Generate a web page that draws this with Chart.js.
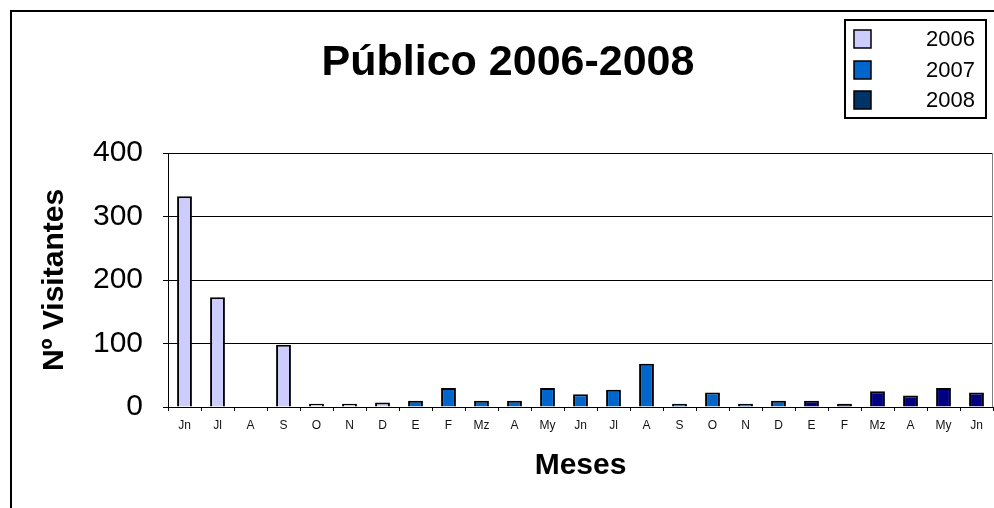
<!DOCTYPE html>
<html><head><meta charset="utf-8">
<script src="https://cdn.jsdelivr.net/npm/chart.js@4"></script>
<style>html,body{margin:0;padding:0;background:#fff}#wrap{width:994px;height:508px;position:relative}</style>
</head><body><div id="wrap"><canvas id="c"></canvas></div>
<script>
const months = ['Jn','Jl','A','S','O','N','D','E','F','Mz','A','My','Jn','Jl','A','S','O','N','D','E','F','Mz','A','My','Jn'];
const series2006 = [332,173,0,98,5,5,7,null,null,null,null,null,null,null,null,null,null,null,null,null,null,null,null,null,null];
const series2007 = [null,null,null,null,null,null,null,10,30,10,10,30,20,27,68,5,23,5,10,null,null,null,null,null,null];
const series2008 = [null,null,null,null,null,null,null,null,null,null,null,null,null,null,null,null,null,null,null,10,5,25,18,30,23];
const yTicks = [0,100,200,300,400];
const seriesNames = ['2006','2007','2008'];
const titleText = 'Público 2006-2008';
const yTitle = 'Nº Visitantes';
const xTitle = 'Meses';

const FONT = "'Liberation Sans', Arial, sans-serif";
const barColors = ['#CCCCFF','#0066CC','#000080'];
const legendColors = ['#CCCCFF','#0066CC','#003366'];

const decor = {
  id: 'decor',
  afterDraw(chart) {
    const ctx = chart.ctx, a = chart.chartArea;
    ctx.save();
    // plot right border
    ctx.strokeStyle = '#808080'; ctx.lineWidth = 1;
    ctx.beginPath(); ctx.moveTo(Math.round(a.right) - 0.5, a.top); ctx.lineTo(Math.round(a.right) - 0.5, a.bottom); ctx.stroke();
    // outer frame
    ctx.strokeStyle = '#000'; ctx.lineWidth = 2;
    ctx.beginPath(); ctx.moveTo(11, 508); ctx.lineTo(11, 11); ctx.lineTo(994, 11); ctx.stroke();
    // title
    ctx.fillStyle = '#000';
    ctx.font = "bold 43px " + FONT;
    ctx.textAlign = 'center'; ctx.textBaseline = 'alphabetic';
    ctx.fillText(titleText, 508, 75);
    // legend
    ctx.fillStyle = '#fff';
    ctx.fillRect(844, 19, 143, 100);
    ctx.strokeStyle = '#000'; ctx.lineWidth = 2;
    ctx.strokeRect(845, 20, 141, 98);
    ctx.font = "22px " + FONT;
    ctx.textAlign = 'right'; ctx.textBaseline = 'middle';
    const rows = [39, 70, 100];
    seriesNames.forEach((n, i) => {
      ctx.fillStyle = legendColors[i];
      ctx.fillRect(854, rows[i] - 9, 17, 18);
      ctx.strokeStyle = '#000'; ctx.lineWidth = 1.5;
      ctx.strokeRect(854, rows[i] - 9, 17, 18);
      ctx.fillStyle = '#000';
      ctx.fillText(n, 975, rows[i] + 1);
    });
    ctx.restore();
  }
};

new Chart(document.getElementById('c'), {
  type: 'bar',
  data: {
    labels: months,
    datasets: [series2006, series2007, series2008].map((d, i) => ({
      label: seriesNames[i],
      data: d,
      backgroundColor: barColors[i],
      borderColor: '#000',
      borderWidth: 2,
      grouped: false,
      barPercentage: 0.45,
      categoryPercentage: 1
    }))
  },
  options: {
    responsive: true,
    maintainAspectRatio: false,
    animation: false,
    layout: { padding: { top: 153, right: 1, left: 0, bottom: 0 } },
    plugins: { legend: { display: false }, title: { display: false }, tooltip: { enabled: false } },
    scales: {
      x: {
        grid: { display: true, drawOnChartArea: false, drawTicks: true, tickLength: 4, color: '#000', offset: true },
        border: { display: true, color: '#000', width: 1 },
        ticks: { color: '#111', font: { family: FONT, size: 12 }, padding: 7, maxRotation: 0, autoSkip: false },
        title: { display: true, text: xTitle, color: '#000', font: { family: FONT, size: 30, weight: 'bold' }, padding: { top: 0, bottom: 24 } },
        afterFit(s) { s.height = 101; }
      },
      y: {
        min: 0, max: 400,
        afterBuildTicks(s) { s.ticks = yTicks.map(v => ({ value: v })); },
        grid: { color: '#000', lineWidth: 1, drawTicks: true, tickLength: 5 },
        border: { display: true, color: '#000', width: 1 },
        ticks: { color: '#000', font: { family: FONT, size: 30 }, padding: 20 },
        title: { display: true, text: yTitle, color: '#000', font: { family: FONT, size: 30, weight: 'bold' }, padding: { top: 37, bottom: 0 } },
        afterFit(s) { s.width = 168; }
      }
    }
  },
  plugins: [decor]
});
</script></body></html>
